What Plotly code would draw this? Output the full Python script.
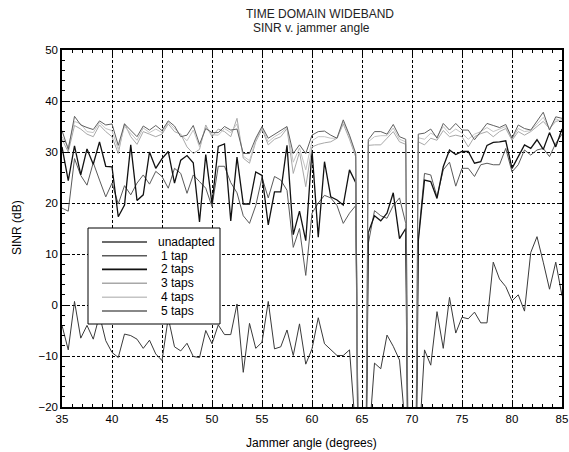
import plotly.graph_objects as go

angles = [35 + 0.625 * i for i in range(81)]

unadapted = [-4, -8.8, 0.7, -6.5, -4, -6.7, -2, -7, -9.3, -10.3, -5.7, -6, -6.7, -8.5, -6.9, -9.6,
             -10.9, -2.5, -8.2, -9, -7.5, -10.1, -10.3, -5, -7.6, -3.9, -5.8, -5.8, 0.2, -13.2, -3.6,
             -8.5, -7.3, 0.7, -8.6, -8.2, -4.9, -9.9, -3.7, -11.6, -8.6, -2.5, -7.6, -8.8, -9.9, -9.9,
             -8.8, -25, -60, -28, -11.4, -12.5, -5.9, -8.1, -10.8, -25, -60, -30, -8.8, -11.8, -1.3,
             -8.5, 1.5, -5.5, -2.4, -2.7, -1.4, -3.5, -3.5, 8.4, 5.1, 3.6, 0.8, 2, -1.2, 10.3, 13.4,
             8.4, 3.1, 8.4, 1.8]

tap1 = [19, 18.4, 28.7, 25.4, 23.5, 27.9, 24.5, 21.2, 23.9, 19.8, 23.4, 21.6, 23.9, 25.5, 23.7, 26.2,
        25.2, 22.9, 26.8, 25.8, 21.9, 25.5, 24.2, 22.9, 19.3, 27.2, 27.2, 24, 22, 17.5, 16, 19.5, 25,
        21, 25.2, 24.5, 22.5, 11.3, 15, 5.8, 18, 20, 21.5, 21, 19.5, 16, 18, 19.5, -100, 12, 18.5,
        17.5, 17, 19.5, 21, 16, -100, 13, 25.8, 25.5, 21.2, 26.5, 28, 23.3, 26.8, 26.8, 25.2, 27.5,
        27.8, 27.5, 27.5, 30.7, 26.1, 27.5, 30.4, 29.4, 30.4, 30.7, 29.1, 31.7, 33.5]

tap2 = [31, 24.4, 31.2, 25.5, 30.6, 27.6, 32, 27.2, 27.1, 17.3, 19.6, 31.4, 20.5, 21.6, 30, 26.8,
        28.7, 30.1, 23.9, 28.4, 29.3, 27.9, 16.3, 29.5, 19.8, 31.1, 31.6, 16.5, 29, 19.8, 19.8, 26.1,
        25.4, 15.7, 22.2, 22.2, 31.3, 13.8, 18.4, 12.6, 30.4, 13.3, 28.1, 21.2, 20.6, 19.6, 26.5, 24,
        -120, 14.2, 17.5, 16.5, 18, 22, 13, 15, -120, 12.5, 24.5, 24.2, 20.9, 27.1, 30.4, 29.5, 30.1,
        30.1, 27.8, 28.1, 31.3, 31.9, 32, 32.2, 26.8, 29.2, 31.4, 30.7, 32.4, 30.5, 33.8, 31, 34.5]

tap3 = [32.5, 30, 35.2, 34.5, 33.5, 33, 35.3, 34, 33, 29.7, 35.6, 33, 31.5, 34, 33.5, 33, 33.5, 35.5,
        34, 33.5, 31, 29.7, 30.5, 35.3, 33, 34.5, 34, 33, 36.6, 28.8, 27.8, 32, 34.5, 31.4, 32.5, 33,
        34.6, 25.8, 30, 23.2, 31, 31.5, 31.8, 32, 32.7, 35.5, 32.5, 29, -130, 31.3, 31.4, 31.4, 32.7,
        34, 32, 31.5, -130, 32, 31.4, 32.7, 32.3, 34.2, 33, 33.3, 33, 31, 33, 33.6, 34, 33, 34, 34.6,
        32.3, 34, 33.3, 34, 35, 36, 34.6, 36, 36.3]

tap4 = [33, 31, 36, 35.5, 34, 33.8, 35.8, 34.6, 34.2, 30.5, 35, 33.6, 32.3, 34.7, 33.8, 34.5, 33.8,
        35.8, 34.6, 33.2, 32.2, 34.3, 31, 35, 33.4, 33.3, 34.6, 33.8, 35.5, 29.2, 28.3, 32.3, 34.8, 32,
        33, 33.7, 34.8, 28, 30.8, 26.5, 32.2, 33, 33, 32.7, 32.7, 35.9, 33, 29.3, -140, 32, 33, 33.2,
        33.2, 34.7, 32.5, 32, -140, 32.8, 32.5, 33.7, 33, 35, 33.6, 34.5, 33.7, 32.5, 33.5, 34, 34.8,
        34, 34.5, 35, 32.5, 34.6, 34, 34.2, 35.5, 36.8, 34.5, 36.5, 36]

tap5 = [34.2, 30.5, 37, 35.3, 34.8, 34.4, 36.1, 35.3, 35.5, 31.3, 35.5, 34.2, 33, 35.1, 34.3, 35.2,
        34.2, 36.1, 35.1, 33, 33.3, 35.2, 31.5, 34.6, 33.8, 33.8, 35, 34.3, 34.5, 29.7, 29.7, 32.7,
        35, 32.7, 33.5, 34.3, 35, 29.7, 31.4, 29.7, 33.3, 34, 34.1, 33.3, 32.7, 36.3, 33.3, 29.7,
        -150, 32.4, 34, 34, 33.5, 35.4, 33, 32.5, -150, 33.5, 33.7, 34.5, 32.7, 35.6, 34.3, 35.6,
        34.3, 34.3, 32.4, 34, 35.6, 35.2, 34.8, 35.4, 32.7, 35.3, 34.6, 34.3, 36, 37.8, 34.3, 36.9, 36.6]

series_names = ["unadapted", "1 tap", "2 taps", "3 taps", "4 taps", "5 taps"]
series_values = [unadapted, tap1, tap2, tap3, tap4, tap5]
series_colors = ["#3a3a3a", "#5a5a5a", "#111111", "#a8a8a8", "#c4c4c4", "#606060"]
series_widths = [1, 1, 1.3, 1, 1, 1]

x_ticks = [35, 40, 45, 50, 55, 60, 65, 70, 75, 80, 85]
y_ticks = [-20, -10, 0, 10, 20, 30, 40, 50]

# figure fills the 569x452 page exactly (body margin removed in post_script);
# plot area at screen x 62..562, y 50..407
W, H = 569, 452
ML, MR, MT, MB = 62, 7, 50, 45
PW, PH = W - ML - MR, H - MT - MB


def sx(px):
    """screen pixel x -> paper x"""
    return (px - ML) / PW


def sy(py):
    """screen pixel y -> paper y"""
    return (H - MB - py) / PH


fig = go.Figure()
for name, vals, col, w in zip(series_names, series_values, series_colors, series_widths):
    fig.add_trace(go.Scatter(x=angles, y=vals, mode="lines", name=name,
                             line=dict(color=col, width=w), showlegend=False))

font_family = "Liberation Sans, Arial, sans-serif"
axis_common = dict(
    showline=True, linecolor="black", linewidth=1.5, mirror="allticks",
    ticks="inside", ticklen=5, tickcolor="black", tickwidth=1,
    showgrid=True, gridcolor="black", gridwidth=1, griddash="3px,2px",
    zeroline=False, automargin=False, ticklabeloverflow="allow",
    tickfont=dict(size=11.5, color="black", family=font_family),
)

fig.update_xaxes(range=[35, 85], tickvals=x_ticks,
                 minor=dict(dtick=1, ticks="inside", ticklen=3, tickcolor="black", showgrid=False),
                 **axis_common)
fig.update_yaxes(range=[-20, 50], tickvals=y_ticks,
                 minor=dict(dtick=2, ticks="inside", ticklen=3, tickcolor="black", showgrid=False),
                 **axis_common)

annotations = [
    dict(text="TIME DOMAIN WIDEBAND", xref="paper", yref="paper",
         x=sx(320), y=sy(14), xanchor="center", yanchor="middle",
         showarrow=False, font=dict(size=12, color="#222222")),
    dict(text="SINR v. jammer angle", xref="paper", yref="paper",
         x=sx(311), y=sy(28), xanchor="center", yanchor="middle",
         showarrow=False, font=dict(size=12, color="#222222")),
    dict(text="Jammer angle (degrees)", xref="paper", yref="paper",
         x=sx(311), y=sy(443), xanchor="center", yanchor="middle",
         showarrow=False, font=dict(size=12, color="black")),
    dict(text="SINR (dB)", xref="paper", yref="paper", textangle=-90,
         x=sx(17), y=sy(228), xanchor="center", yanchor="middle",
         showarrow=False, font=dict(size=12, color="black")),
]

# legend box drawn inside the plot (opaque, bordered)
shapes = [dict(type="rect", xref="paper", yref="paper", layer="above",
               x0=sx(88), x1=sx(220), y0=sy(324), y1=sy(228),
               fillcolor="white", line=dict(color="black", width=1))]
row_y = [242, 255.7, 269.3, 283.3, 297.3, 311]
for k, (name, col, w) in enumerate(zip(series_names, series_colors, series_widths)):
    py = row_y[k]
    shapes.append(dict(type="line", xref="paper", yref="paper", layer="above",
                       x0=sx(102), x1=sx(147), y0=sy(py), y1=sy(py),
                       line=dict(color=col, width=w + 0.5)))
    annotations.append(dict(text=name, xref="paper", yref="paper",
                            x=sx(156 if k == 0 else 158.5), y=sy(py),
                            xanchor="left", yanchor="middle", showarrow=False,
                            font=dict(size=12, color="black")))

fig.update_layout(
    width=W, height=H,
    margin=dict(l=ML, r=MR, t=MT, b=MB),
    paper_bgcolor="white", plot_bgcolor="white",
    font=dict(family=font_family, size=12, color="black"),
    showlegend=False,
    shapes=shapes,
    annotations=annotations,
)

fig.write_html("out.html",
               config={"displayModeBar": False},
               post_script="document.body.style.margin='0px';"
                           "document.documentElement.style.overflow='hidden';")
